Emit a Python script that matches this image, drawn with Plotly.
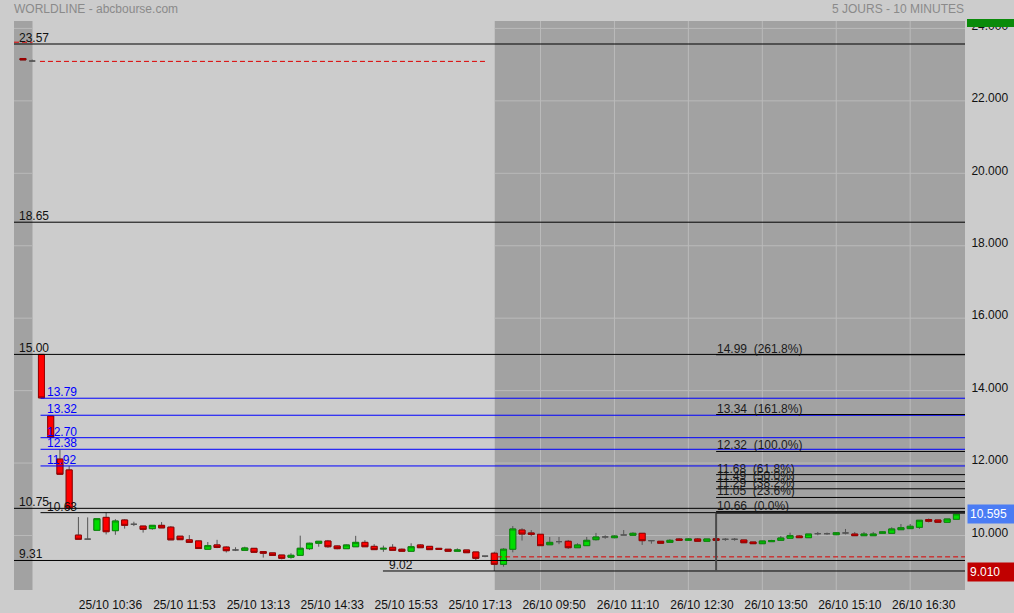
import plotly.graph_objects as go

# ---------------- data ----------------
title_left = "WORLDLINE - abcbourse.com"
title_right = "5 JOURS - 10 MINUTES"

opens = [23.17, 23.10, 15.00, 13.30, 12.11, 11.81, 10.01, 9.90, 10.144, 10.50,
         10.133, 10.428, 10.31, 10.26, 10.19, 10.28, 10.23, 9.98, 9.88, 9.85,
         9.62, 9.74, 9.68, 9.60, 9.59, 9.645, 9.555, 9.52, 9.46, 9.40,
         9.453, 9.636, 9.785, 9.848, 9.71, 9.636, 9.69, 9.81, 9.70, 9.625,
         9.674, 9.62, 9.564, 9.738, 9.70, 9.645, 9.62, 9.564, 9.60, 9.545,
         9.43, 9.51, 9.205, 9.62, 10.15, 10.07, 10.033, 9.745, 9.83, 9.84,
         9.663, 9.72, 9.885, 9.96, 9.94, 10.014, 10.006, 10.06, 9.857, 9.84,
         9.81, 9.904, 9.866, 9.904, 9.84, 9.91, 9.895, 9.895, 9.876, 9.82,
         9.774, 9.83, 9.866, 9.923, 9.986, 9.94, 10.05, 10.05, 10.022, 10.07,
         10.04, 9.995, 9.995, 10.06, 10.06, 10.16, 10.19, 10.226, 10.44, 10.428,
         10.365, 10.447]
highs = [23.17, 23.14, 15.00, 13.32, 12.38, 11.92, 10.51, 10.50, 10.464, 10.63,
         10.45, 10.45, 10.38, 10.26, 10.28, 10.37, 10.26, 9.98, 10.01, 9.86,
         9.82, 9.88, 9.70, 9.675, 9.69, 9.645, 9.56, 9.52, 9.46, 9.51,
         9.995, 9.80, 9.84, 9.876, 9.72, 9.75, 9.99, 9.87, 9.76, 9.72,
         9.76, 9.64, 9.785, 9.76, 9.70, 9.645, 9.62, 9.645, 9.60, 9.545,
         9.43, 9.553, 9.65, 10.26, 10.20, 10.15, 10.04, 9.96, 9.96, 9.876,
         9.785, 9.96, 10.07, 10.005, 10.00, 10.15, 10.09, 10.06, 9.87, 9.84,
         9.90, 9.93, 9.93, 9.93, 9.904, 9.91, 9.93, 9.93, 9.876, 9.82,
         9.848, 9.88, 9.986, 10.077, 10.01, 10.04, 10.097, 10.08, 10.077, 10.18,
         10.097, 10.097, 10.097, 10.12, 10.227, 10.317, 10.317, 10.42, 10.47, 10.428,
         10.456, 10.63]
lows = [23.13, 23.10, 13.79, 12.70, 11.68, 10.70, 9.89, 9.90, 10.144, 10.03,
        10.02, 10.19, 10.26, 10.08, 10.16, 10.21, 9.88, 9.885, 9.81, 9.64,
        9.62, 9.65, 9.53, 9.57, 9.59, 9.52, 9.39, 9.45, 9.34, 9.36,
        9.45, 9.60, 9.69, 9.66, 9.62, 9.636, 9.69, 9.69, 9.61, 9.55,
        9.59, 9.564, 9.564, 9.663, 9.60, 9.62, 9.564, 9.564, 9.525, 9.32,
        9.40, 9.02, 9.14, 9.535, 9.86, 9.98, 9.72, 9.745, 9.76, 9.627,
        9.663, 9.72, 9.86, 9.91, 9.92, 10.014, 10.006, 9.74, 9.774, 9.785,
        9.81, 9.866, 9.866, 9.84, 9.84, 9.866, 9.85, 9.855, 9.80, 9.774,
        9.774, 9.82, 9.866, 9.923, 9.94, 9.94, 10.006, 10.02, 10.022, 10.03,
        9.995, 9.995, 9.995, 10.06, 10.06, 10.16, 10.19, 10.18, 10.36, 10.365,
        10.365, 10.447]
closes = [23.13, 23.10, 13.80, 12.71, 11.69, 10.76, 9.895, 9.90, 10.464, 10.105,
          10.40, 10.28, 10.31, 10.17, 10.28, 10.21, 9.88, 9.885, 9.81, 9.64,
          9.72, 9.67, 9.58, 9.60, 9.655, 9.536, 9.51, 9.45, 9.37, 9.453,
          9.647, 9.785, 9.84, 9.69, 9.636, 9.738, 9.81, 9.69, 9.61, 9.645,
          9.59, 9.564, 9.69, 9.663, 9.61, 9.62, 9.564, 9.60, 9.525, 9.37,
          9.43, 9.205, 9.62, 10.18, 10.04, 10.033, 9.72, 9.81, 9.83, 9.663,
          9.738, 9.866, 9.958, 9.96, 9.985, 10.014, 10.06, 9.857, 9.857, 9.785,
          9.866, 9.866, 9.904, 9.84, 9.904, 9.866, 9.895, 9.895, 9.80, 9.774,
          9.848, 9.86, 9.93, 9.995, 9.94, 10.04, 10.05, 10.05, 10.077, 10.07,
          9.995, 10.04, 10.04, 10.10, 10.18, 10.215, 10.254, 10.42, 10.392, 10.365,
          10.456, 10.595]
candle_idx = list(range(len(opens)))

tick_labels = ["25/10 10:36", "25/10 11:53", "25/10 13:13", "25/10 14:33",
               "25/10 15:53", "25/10 17:13", "26/10 09:50", "26/10 11:10",
               "26/10 12:30", "26/10 13:50", "26/10 15:10", "26/10 16:30"]
y_ticks = [10, 12, 14, 16, 18, 20, 22, 24]

# session boundaries (candle index units) and previous closes per session
session_edges = [1.03, 51.05]
prev_close = [23.62, 23.09, 9.41]
prev_close_from = [-0.97, 1.84, 51.3]
prev_close_to = [1.03, 50.2, 101.93]

full_levels = [23.57, 18.65, 15.00, 10.75, 9.31]
blue_levels = [13.79, 13.32, 12.70, 12.38, 11.92]
partial_levels = [10.63, 9.02]
partial_from = [1.9, 38.95]
fib_levels = [14.99, 13.34, 12.32, 11.68, 11.49, 11.29, 11.05, 10.66]
fib_pcts = ["261.8%", "161.8%", "100.0%", "61.8%", "50.0%", "38.2%", "23.6%", "0.0%"]
fib_from = 75
fib_box_top, fib_box_bottom = 10.63, 9.02
last_price = 10.595
low_tag = 9.010

# ---------------- layout constants ----------------
X_MIN, X_MAX = -0.97, 101.93
Y_MIN, Y_MAX = 8.495, 24.205
FONT = "Liberation Sans, Arial, sans-serif"
LIGHT = "#cccccc"
DARK = "#a2a2a2"
GRID = "#bababa"

fig = go.Figure()

# wicks + outlines (gray)
fig.add_trace(go.Candlestick(
    x=candle_idx, open=opens, high=highs, low=lows, close=closes,
    increasing=dict(line=dict(color="#555555", width=1), fillcolor="rgba(0,0,0,0)"),
    decreasing=dict(line=dict(color="#555555", width=1), fillcolor="rgba(0,0,0,0)"),
    whiskerwidth=0, showlegend=False, hoverinfo="skip"))

# coloured bodies (dojis left gray)
b_open = [o if o != c else None for o, c in zip(opens, closes)]
b_close = [c if o != c else None for o, c in zip(opens, closes)]
b_high = [max(o, c) if o != c else None for o, c in zip(opens, closes)]
b_low = [min(o, c) if o != c else None for o, c in zip(opens, closes)]
fig.add_trace(go.Candlestick(
    x=candle_idx, open=b_open, high=b_high, low=b_low, close=b_close,
    increasing=dict(line=dict(color="#0a8a0a", width=1), fillcolor="#00dd00"),
    decreasing=dict(line=dict(color="#990000", width=1), fillcolor="#ff0000"),
    whiskerwidth=0, showlegend=False, hoverinfo="skip"))

first_label = 9.47
label_step = 8
tick_pos = [first_label + label_step * k for k in range(len(tick_labels))]

shapes = []
# dark sessions with their own grid (grid only shows in dark sessions)
dark_sessions = [(X_MIN, session_edges[0]), (session_edges[1], X_MAX)]
for x0, x1 in dark_sessions:
    shapes.append(dict(type="rect", xref="x", yref="paper", x0=x0, x1=x1, y0=0, y1=1,
                       fillcolor=DARK, line=dict(width=0), layer="below"))
    for v in y_ticks:
        shapes.append(dict(type="line", xref="x", yref="y", x0=x0, x1=x1, y0=v, y1=v,
                           line=dict(color=GRID, width=1), layer="below"))
    for k in range(1, 13):
        g = label_step * k
        if x0 < g < x1:
            shapes.append(dict(type="line", xref="x", yref="paper", x0=g, x1=g, y0=0, y1=1,
                               line=dict(color=GRID, width=1), layer="below"))

annotations = []


def level_label(text, x, xref, y, color, xshift):
    annotations.append(dict(text=text, x=x, xref=xref, y=y, yref="y",
                            xanchor="left", yanchor="bottom", showarrow=False,
                            borderpad=0, xshift=xshift, yshift=-2,
                            font=dict(family=FONT, size=12, color=color)))


for v in full_levels:
    shapes.append(dict(type="line", xref="paper", yref="y", x0=0, x1=1, y0=v, y1=v,
                       line=dict(color="#000000", width=1)))
    level_label(f"{v:.2f}", 0, "paper", v, "#111111", 4)

for v in blue_levels:
    shapes.append(dict(type="line", xref="x", yref="y", x0=partial_from[0], x1=X_MAX, y0=v, y1=v,
                       line=dict(color="#0000ff", width=1)))
    level_label(f"{v:.2f}", partial_from[0], "x", v, "#0000ff", 5)

for v, x0 in zip(partial_levels, partial_from):
    shapes.append(dict(type="line", xref="x", yref="y", x0=x0, x1=X_MAX, y0=v, y1=v,
                       line=dict(color="#000000", width=1)))
    level_label(f"{v:.2f}", x0, "x", v, "#111111", 5)

for v, x0, x1 in zip(prev_close, prev_close_from, prev_close_to):
    shapes.append(dict(type="line", xref="x", yref="y", x0=x0, x1=x1, y0=v, y1=v,
                       line=dict(color="#dd0000", width=1, dash="5px,3px")))

# fibonacci tool
for v, p in zip(fib_levels, fib_pcts):
    shapes.append(dict(type="line", xref="x", yref="y", x0=fib_from, x1=X_MAX, y0=v, y1=v,
                       line=dict(color="#000000", width=1)))
    level_label(f"{v:.2f}\u00a0\u00a0({p})", fib_from, "x", v, "#1a1a1a", 0)
shapes.append(dict(type="line", xref="x", yref="y", x0=fib_from, x1=fib_from,
                   y0=fib_box_bottom, y1=fib_box_top, line=dict(color="#4a4a4a", width=2)))
shapes.append(dict(type="line", xref="x", yref="y", x0=fib_from, x1=X_MAX,
                   y0=fib_box_top, y1=fib_box_top, line=dict(color="#222222", width=2)))

# green marker on top of right axis
shapes.append(dict(type="rect", xref="paper", yref="paper", x0=1 + 2 / 951, x1=1 + 49 / 951,
                   y0=(590 - 27) / 569, y1=(590 - 19) / 569, fillcolor="#0a8a0a",
                   line=dict(width=0)))

# price tags
annotations.append(dict(text=f"{last_price:.3f}", x=1, xref="paper", y=last_price, yref="y",
                        xanchor="left", yanchor="middle", showarrow=False, xshift=2,
                        width=43, height=14, align="left", bgcolor="#4a7cf4", borderpad=2,
                        font=dict(family=FONT, size=12, color="#ffffff")))
annotations.append(dict(text=f"{low_tag:.3f}", x=1, xref="paper", y=low_tag, yref="y",
                        xanchor="left", yanchor="middle", showarrow=False, xshift=2, yshift=-1,
                        width=43, height=14, align="left", bgcolor="#c00000", borderpad=2,
                        font=dict(family=FONT, size=12, color="#ffffff")))

# titles
annotations.append(dict(text=title_left, x=0, xref="paper", y=(590 - 9.5) / 569, yref="paper",
                        xanchor="left", yanchor="middle", showarrow=False, xshift=-2,
                        font=dict(family=FONT, size=12, color="#8a8a8a")))
annotations.append(dict(text=title_right, x=1, xref="paper", y=(590 - 9.5) / 569, yref="paper",
                        xanchor="right", yanchor="middle", showarrow=False, xshift=1,
                        font=dict(family=FONT, size=12, color="#8a8a8a")))

fig.update_layout(
    width=1014, height=613,
    margin=dict(l=14, r=49, t=21, b=23, autoexpand=False),
    paper_bgcolor=LIGHT, plot_bgcolor=LIGHT,
    boxgap=0.35, boxgroupgap=0,
    showlegend=False,
    shapes=shapes, annotations=annotations,
    font=dict(family=FONT, size=12, color="#111111"),
    xaxis=dict(range=[X_MIN, X_MAX], rangeslider=dict(visible=False), automargin=False,
               tickmode="array", tickvals=tick_pos, ticktext=tick_labels,
               showgrid=False, zeroline=False, showline=False,
               ticks="outside", ticklen=4, tickcolor="rgba(0,0,0,0)",
               tickfont=dict(family=FONT, size=12, color="#111111")),
    yaxis=dict(range=[Y_MIN, Y_MAX], side="right", tickmode="array", tickvals=y_ticks,
               ticktext=[f"{v:.3f}" for v in y_ticks], showgrid=False, automargin=False,
               zeroline=False, showline=False,
               ticks="outside", ticklen=3, tickcolor="rgba(0,0,0,0)",
               ticklabelshift=-3,
               tickfont=dict(family=FONT, size=12, color="#111111")),
)

fig.write_html("out.html", config={"displayModeBar": False},
               post_script="document.body.style.margin='0px';document.body.style.overflow='hidden';")
